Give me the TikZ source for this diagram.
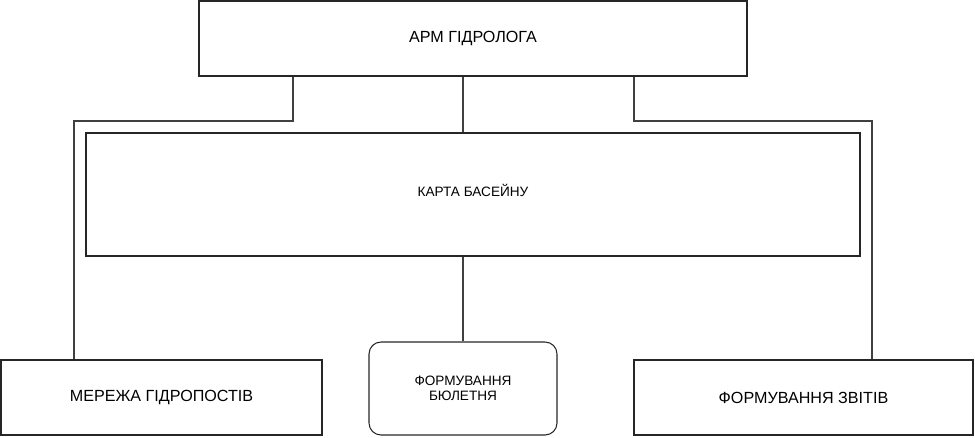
\documentclass[tikz,border=0pt]{standalone}
\usepackage{fontspec}
\setmainfont{Liberation Sans}
\begin{document}
\begin{tikzpicture}[x=0.75pt,y=-0.75pt,
  box/.style={draw=black!85, line width=0.8pt, rectangle, inner sep=0pt, align=center},
  rbox/.style={box, rounded corners=9pt},
  conn/.style={draw=black!75, line width=0.8pt},
  bigtxt/.style={font=\fontsize{12.1pt}{14pt}\selectfont},
  smalltxt/.style={font=\fontsize{10.2pt}{11.5pt}\selectfont}]
\useasboundingbox (0,0) rectangle (975,437);
\node[box, bigtxt, minimum width=548*0.75pt, minimum height=75*0.75pt] (arm) at (473,38.5) {АРМ ГІДРОЛОГА};
\node[box, smalltxt, minimum width=774*0.75pt, minimum height=123*0.75pt] (karta) at (473,194.5) {\raisebox{6.5pt}{КАРТА БАСЕЙНУ}};
\node[box, bigtxt, minimum width=321*0.75pt, minimum height=75*0.75pt] (mer) at (161.5,397.5) {МЕРЕЖА ГІДРОПОСТІВ};
\node[rbox, smalltxt, minimum width=188*0.75pt, minimum height=93*0.75pt] (bul) at (463,388.5) {ФОРМУВАННЯ\\БЮЛЕТНЯ};
\node[box, bigtxt, minimum width=339*0.75pt, minimum height=75*0.75pt] (zvit) at (803.5,397.5) {ФОРМУВАННЯ ЗВІТІВ};
\coordinate (al) at (293,0);
\coordinate (am) at (463,0);
\coordinate (ar) at (634,0);
\coordinate (jl) at (74,121);
\coordinate (jr) at (872,121);
\draw[conn] (arm.south -| al) |- (jl) -- (jl |- mer.north);
\draw[conn] (arm.south -| ar) |- (jr) -- (jr |- zvit.north);
\draw[conn] (arm.south -| am) -- (karta.north -| am);
\draw[conn] (karta.south -| bul.north) -- (bul.north);
\end{tikzpicture}
\end{document}
